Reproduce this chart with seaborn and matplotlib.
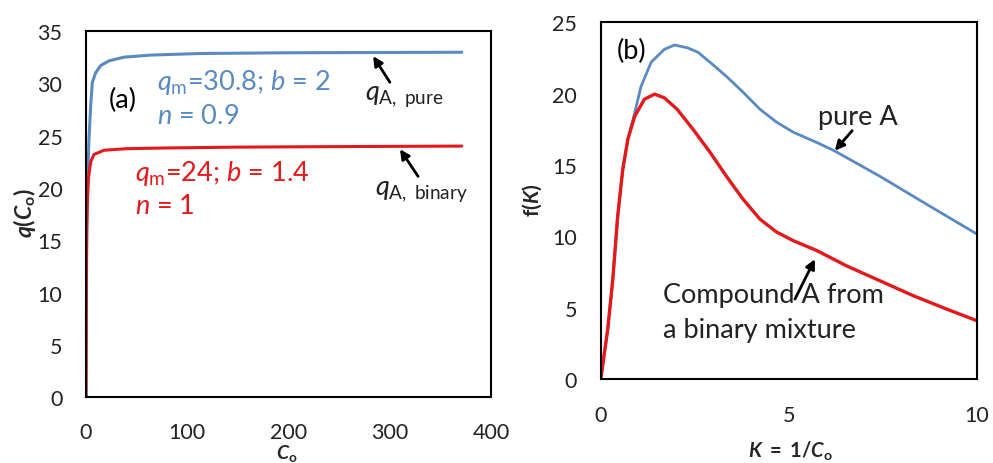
import numpy as np
import pandas as pd
import seaborn as sns
import matplotlib
matplotlib.use("Agg")
import matplotlib.pyplot as plt

# ---------------- data ----------------
# Panel (a): isotherms q(Co)
co_pure = [0, 0.5, 1, 2, 3, 4.6, 6.3, 9.5, 14.5, 22.7, 37.5, 64, 113, 200, 300, 371]
q_pure = [0, 14, 19, 22, 24.7, 27.85, 30.1, 31.0, 31.7, 32.15, 32.5, 32.7, 32.85, 32.92, 32.95, 32.97]
co_binary = [0, 0.3, 0.8, 1.5, 2.5, 4.6, 7.9, 17.8, 40, 80, 150, 250, 371]
q_binary = [0, 10, 16, 19, 21, 22.5, 23.2, 23.6, 23.75, 23.82, 23.9, 23.95, 24.0]

# Panel (b): distribution f(K)
k_pure = [0, 0.186, 0.32, 0.45, 0.585, 0.72, 0.86, 1.07, 1.34, 1.69, 1.96, 2.31, 2.58, 2.9,
          3.34, 3.78, 4.23, 4.67, 5.11, 5.8, 6.2, 7.42, 8.75, 10.0]
f_pure = [0, 3.5, 7.0, 11.4, 14.7, 16.8, 18.2, 20.5, 22.2, 23.1, 23.4, 23.2, 22.9, 22.2,
          21.2, 20.1, 18.9, 18.0, 17.3, 16.5, 16.0, 14.2, 12.1, 10.15]
k_binary = [0, 0.186, 0.32, 0.45, 0.585, 0.72, 0.9, 1.16, 1.43, 1.69, 2.03, 2.45, 2.9, 3.34,
            3.78, 4.23, 4.67, 5.11, 5.74, 6.53, 7.42, 8.31, 9.19, 10.0]
f_binary = [0, 3.5, 7.0, 11.4, 14.7, 16.8, 18.4, 19.6, 19.96, 19.7, 18.9, 17.5, 15.9, 14.2,
            12.6, 11.2, 10.3, 9.7, 9.0, 7.93, 6.88, 5.83, 4.9, 4.08]

left_xticks = [0, 100, 200, 300, 400]
left_yticks = [0, 5, 10, 15, 20, 25, 30, 35]
right_xticks = [0, 5, 10]
right_yticks = [0, 5, 10, 15, 20, 25]

BLUE = "#5A8AC2"
RED = "#E3191B"
TXT = "#222222"

# ---------------- style ----------------
sns.set_theme(style="white")
plt.rcParams["font.family"] = ["Lato", "DejaVu Sans"]
plt.rcParams["mathtext.fontset"] = "custom"
plt.rcParams["mathtext.rm"] = "Lato"
plt.rcParams["mathtext.it"] = "Lato:italic"
plt.rcParams["mathtext.bf"] = "Lato:bold"
plt.rcParams["mathtext.bfit"] = "Lato:italic:bold"

fig = plt.figure(figsize=(9.93, 4.64), dpi=100)
ax1 = fig.add_axes([0.0866, 0.142, 0.408, 0.789])
ax2 = fig.add_axes([0.605, 0.181, 0.379, 0.769])

df_a_pure = pd.DataFrame({"C": co_pure, "q": q_pure})
df_a_bin = pd.DataFrame({"C": co_binary, "q": q_binary})
df_b_pure = pd.DataFrame({"K": k_pure, "f": f_pure})
df_b_bin = pd.DataFrame({"K": k_binary, "f": f_binary})

sns.lineplot(data=df_a_pure, x="C", y="q", ax=ax1, color=BLUE, lw=2.2, sort=False)
sns.lineplot(data=df_a_bin, x="C", y="q", ax=ax1, color=RED, lw=2.2, sort=False)
sns.lineplot(data=df_b_pure, x="K", y="f", ax=ax2, color=BLUE, lw=2.0, sort=False)
sns.lineplot(data=df_b_bin, x="K", y="f", ax=ax2, color=RED, lw=2.4, sort=False)

for ax in (ax1, ax2):
    for s in ax.spines.values():
        s.set_color("black")
        s.set_linewidth(1.5)
    ax.tick_params(axis="both", direction="in", length=6, width=1.3, colors="black",
                   labelsize=15.5, labelcolor=TXT)
    ax.tick_params(axis="x", pad=19)
    ax.tick_params(axis="y", pad=17)
ax1.tick_params(axis="x", pad=18)

ax1.set_xlim(0, 400)
ax1.set_ylim(0, 35)
ax1.set_xticks(left_xticks)
ax1.set_yticks(left_yticks)
ax2.set_xlim(0, 10)
ax2.set_ylim(0, 25)
ax2.set_xticks(right_xticks)
ax2.set_yticks(right_yticks)

ax1.set_xlabel(r"$\mathbfit{C}_{\mathbf{o}}$", fontsize=14, va="center")
ax1.xaxis.set_label_coords(0.496, -0.152)
ax1.set_ylabel(r"$\mathbfit{q}\mathbf{(}\mathbfit{C}_{\mathbf{o}}\mathbf{)}$", fontsize=16.5, va="center")
ax1.yaxis.set_label_coords(-0.151, 0.505)
ax2.set_xlabel(r"$\mathbfit{K}\mathbf{\ =\ 1/}\mathbfit{C}_{\mathbf{o}}$", fontsize=14.5, va="center")
ax2.xaxis.set_label_coords(0.503, -0.197)
ax2.set_ylabel(r"$\mathbf{f(}\mathbfit{K}\mathbf{)}$", fontsize=15, va="center")
ax2.yaxis.set_label_coords(-0.181, 0.504)

FS = 19.5
# ---------------- annotations panel (a) ----------------
ax1.text(36.5, 28.5, "(a)", fontsize=FS, ha="center", va="center", color="black")
ax1.text(70, 30.2, r"$q_{\mathrm{m}}$=30.8; $b$ = 2", fontsize=FS, color=BLUE, va="center")
ax1.text(70, 26.9, r"$n$ = 0.9", fontsize=FS, color=BLUE, va="center")
ax1.text(48.4, 21.5, r"$q_{\mathrm{m}}$=24; $b$ = 1.4", fontsize=FS, color=RED, va="center")
ax1.text(48.4, 18.3, r"$n$ = 1", fontsize=FS, color=RED, va="center")
ax1.text(275.6, 28.8, r"$q_{\mathrm{A,\ pure}}$", fontsize=FS, color=TXT, va="center")
ax1.text(285.4, 19.8, r"$q_{\mathrm{A,\ binary}}$", fontsize=FS, color=TXT, va="center")
arrow = dict(arrowstyle="-|>", color="black", lw=2, mutation_scale=14, shrinkA=0, shrinkB=0)
ax1.annotate("", xy=(283.5, 32.6), xytext=(300, 30.1), arrowprops=arrow)
ax1.annotate("", xy=(310, 23.7), xytext=(327.9, 21.1), arrowprops=arrow)

# ---------------- annotations panel (b) ----------------
ax2.text(0.82, 23.0, "(b)", fontsize=FS, ha="center", va="center", color="black")
ax2.text(5.77, 18.4, "pure A", fontsize=FS, va="center", color=TXT)
ax2.text(1.65, 5.95, "Compound A from", fontsize=FS, va="center", color=TXT)
ax2.text(1.65, 3.5, "a binary mixture", fontsize=FS, va="center", color=TXT)
ax2.annotate("", xy=(6.22, 16.0), xytext=(6.68, 17.4), arrowprops=arrow)
ax2.annotate("", xy=(5.69, 8.4), xytext=(5.16, 5.6), arrowprops=arrow)

fig.savefig("out.png", dpi=100)
